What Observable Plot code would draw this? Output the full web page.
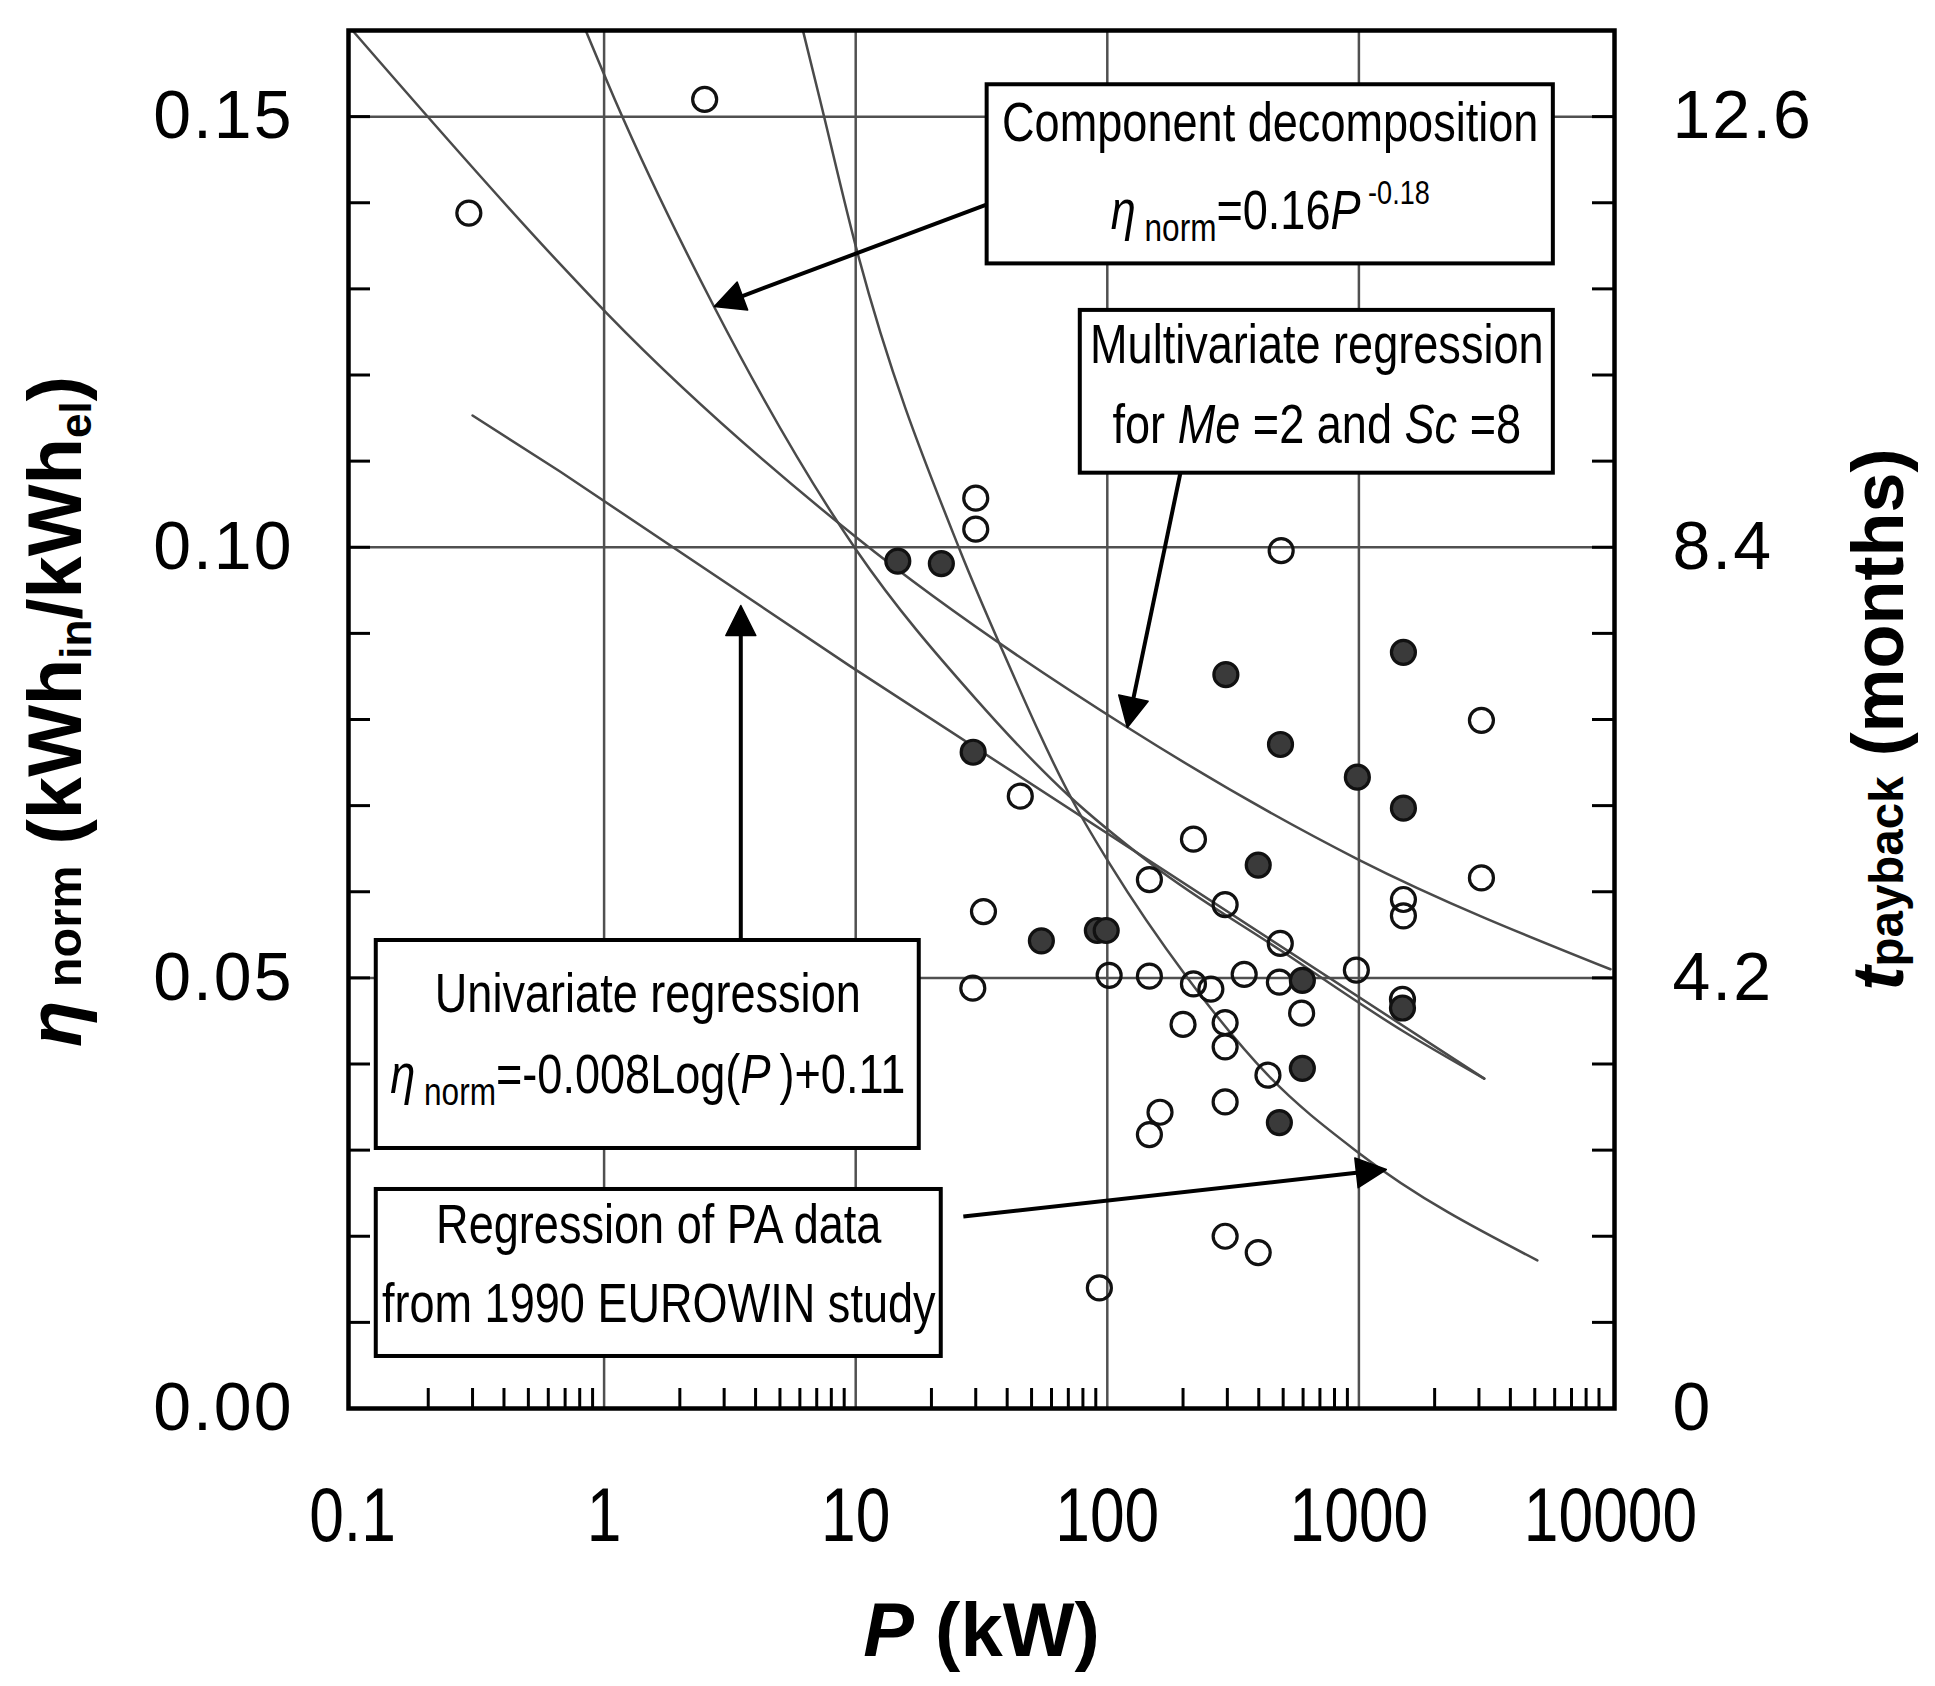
<!DOCTYPE html>
<html>
<head>
<meta charset="utf-8">
<script src="https://cdn.jsdelivr.net/npm/d3@7"></script>
<script src="https://cdn.jsdelivr.net/npm/@observablehq/plot@0.6"></script>
<style>
  html, body { margin: 0; padding: 0; background: #ffffff; }
  #chart { width: 1935px; height: 1686px; }
</style>
</head>
<body>
<div id="chart"></div>
<script>
// ---------------- data ----------------
const xTicks = [0.1, 1, 10, 100, 1000, 10000];
const xTickLabels = ["0.1", "1", "10", "100", "1000", "10000"];
const yTicks = [0, 0.05, 0.10, 0.15];
const yTickLabels = ["0.00", "0.05", "0.10", "0.15"];
const rightTickLabels = ["0", "4.2", "8.4", "12.6"];
const gridX = [1, 10, 100, 1000];
const gridY = [0.05, 0.10, 0.15];

// open circles
const openP   = [0.29, 2.51, 30, 30, 491, 3069, 3069, 45.1, 220, 147, 294, 32.2, 487, 1503, 1503, 101.7, 147, 220, 258, 350, 483, 977, 200, 294, 294, 592, 435, 294, 162, 147, 294, 398, 93, 29.2, 1490];
const openEta = [0.1388, 0.1520, 0.1057, 0.1021, 0.0996, 0.0799, 0.0616, 0.0711, 0.0661, 0.0614, 0.0585, 0.0577, 0.0540, 0.0591, 0.0572, 0.0503, 0.0502, 0.0493, 0.0487, 0.0504, 0.0495, 0.0509, 0.0446, 0.0448, 0.0420, 0.0459, 0.0387, 0.0356, 0.0344, 0.0318, 0.0200, 0.0181, 0.0140, 0.0488, 0.0475];
// filled circles
const filledP   = [14.7, 21.9, 296, 488, 986, 1503, 1503, 29.3, 398, 54.7, 91.3, 99, 596, 1490, 596, 483];
const filledEta = [0.0984, 0.0981, 0.0852, 0.0771, 0.0733, 0.0878, 0.0697, 0.0762, 0.0631, 0.0543, 0.0555, 0.0555, 0.0497, 0.0465, 0.0395, 0.0332];

// regression curves
const multiP   = [0.1, 0.668, 1.03, 10.1, 120, 986, 10000];
const multiEta = [0.160, 0.1329, 0.1271, 0.1011, 0.0791, 0.0638, 0.0510];
const uniP     = [0.3, 0.668, 9.5, 3150];
const uniEta   = [0.1153, 0.1088, 0.0862, 0.0383];
const compP    = [0.845, 1.106, 2.74, 10.1, 30, 70, 150, 500, 1500, 3150];
const compEta  = [0.160, 0.1519, 0.1279, 0.0996, 0.0824, 0.0712, 0.0632, 0.0530, 0.0438, 0.0383];
const euroP    = [6.17, 7.22, 10.1, 26.0, 37.8, 74.3, 102.4, 207, 435, 996, 5120];
const euroEta  = [0.160, 0.1519, 0.1345, 0.0996, 0.0884, 0.0701, 0.0632, 0.0501, 0.0387, 0.0297, 0.0172];

// annotation boxes (data coordinates)
const boxP1 = [33.3, 78.1, 0.1243, 0.1243];
const boxP2 = [5927, 5927, 17.89, 21.88];
const boxEtaTop    = [0.1537, 0.1275, 0.05434, 0.02543];
const boxEtaBottom = [0.1329, 0.1086, 0.03019, 0.00604];

// annotation text lines: box index, baseline, rich segments
const labelBox = [0, 0, 1, 1, 2, 2, 3, 3];
const labelEta = [0.1472, 0.1370, 0.12145, 0.11205, 0.04598, 0.03663, 0.01927, 0.00999];
const labelSegs = [
  [{t: "Component decomposition"}],
  [{t: "η", i: 1}, {t: " norm", s: 0.7, dy: 12}, {t: "=0.16"}, {t: "P", i: 1}, {t: " -0.18", s: 0.6, dy: -25}],
  [{t: "Multivariate regression"}],
  [{t: "for "}, {t: "Me", i: 1}, {t: " =2 and "}, {t: "Sc", i: 1}, {t: " =8"}],
  [{t: "Univariate regression"}],
  [{t: "η", i: 1}, {t: " norm", s: 0.7, dy: 12}, {t: "=-0.008Log("}, {t: "P", i: 1}, {t: "\u2009)+0.11"}],
  [{t: "Regression of PA data"}],
  [{t: "from 1990 EUROWIN study"}]
];

// arrows
const arrowFromP   = [33.3, 195, 3.494, 26.78];
const arrowFromEta = [0.1398, 0.10856, 0.05434, 0.02229];
const arrowToP     = [2.742, 120.1, 3.494, 1285];
const arrowToEta   = [0.12795, 0.07907, 0.09324, 0.02775];

// axis titles
const titleYSegs = [{t: "η", i: 1}, {t: " norm", s: 0.64}, {t: " (kWh"}, {t: "in", s: 0.58, dy: 10}, {t: "/kWh"}, {t: "el", s: 0.58, dy: 10}, {t: ")"}];
const titleRightSegs = [{t: "t", i: 1}, {t: "payback", s: 0.66}, {t: " (months)"}];
const titleXSegs = [{t: "P", i: 1}, {t: " (kW)"}];

// ---------------- helpers ----------------
function fontAvailable(name) {
  const c = document.createElement("canvas").getContext("2d");
  const s = "abcdefghijklmnopqrstuvwxyz0123456789 ABCDEFGH";
  c.font = "40px monospace"; const a = c.measureText(s).width;
  c.font = `40px "${name}", monospace`; const b = c.measureText(s).width;
  return Math.abs(a - b) > 0.5;
}
const narrowOK = fontAvailable("Liberation Sans Narrow");
const NARROW = narrowOK ? '"Liberation Sans Narrow", "Liberation Sans", Arial, sans-serif' : '"Liberation Sans", Arial, sans-serif';
const narrowScale = narrowOK ? 1 : 0.82;
const plain = segs => segs.map(s => s.t).join("");

function richify(el, segs, base) {
  while (el.firstChild) el.removeChild(el.firstChild);
  let cur = 0;
  for (const s of segs) {
    const t = document.createElementNS("http://www.w3.org/2000/svg", "tspan");
    const off = s.dy || 0;
    if (off !== cur) { t.setAttribute("dy", off - cur); cur = off; }
    if (s.s) t.setAttribute("font-size", s.s * base);
    if (s.i) t.setAttribute("font-style", "italic");
    t.textContent = s.t;
    el.appendChild(t);
  }
}
function squeeze(el) {
  if (narrowScale === 1) return;
  el.setAttribute("transform", (el.getAttribute("transform") || "") + ` scale(${narrowScale},1)`);
}

// ---------------- scales ----------------
const W = 1935, H = 1686;
const mL = 348, mR = 321, mT = 30, mB = 278;
const frameW = W - mL - mR, frameH = H - mT - mB;
const xOpts = {type: "log", domain: [0.1, 10000], range: [mL + 4, W - mR - 4]};
const yOpts = {domain: [0, 0.16], range: [H - mB, mT]};
const X = Plot.scale({x: xOpts});
const Y = Plot.scale({y: yOpts});

// ---------------- derived tables ----------------
const openPts = openP.map((p, i) => ({p, eta: openEta[i]}));
const filledPts = filledP.map((p, i) => ({p, eta: filledEta[i]}));
const toPts = (P, E) => P.map((p, i) => ({p, eta: E[i]}));
const boxes = boxP1.map((p1, i) => ({p1, p2: boxP2[i], e1: boxEtaBottom[i], e2: boxEtaTop[i]}));
const ann = labelSegs.map((segs, i) => ({
  segs, text: plain(segs),
  p: Math.sqrt(boxP1[labelBox[i]] * boxP2[labelBox[i]]),
  eta: labelEta[i]
}));
const minorX = [0.1, 1, 10, 100, 1000].flatMap(d => [2, 3, 4, 5, 6, 7, 8, 9].map(k => k * d));
const minorY = d3.range(1, 16).map(k => k / 100);

// arrows: shafts and filled heads (head size in pixels)
const headL = 30, headW = 30;
const shafts = [], heads = [];
arrowFromP.forEach((p, i) => {
  const x1 = X.apply(p), y1 = Y.apply(arrowFromEta[i]);
  const x2 = X.apply(arrowToP[i]), y2 = Y.apply(arrowToEta[i]);
  const len = Math.hypot(x2 - x1, y2 - y1);
  const ux = (x2 - x1) / len, uy = (y2 - y1) / len;
  const bx = x2 - ux * headL, by = y2 - uy * headL;
  const nx = -uy, ny = ux;
  shafts.push({p1: p, e1: arrowFromEta[i], p2: X.invert(bx), e2: Y.invert(by)});
  [[x2, y2], [bx + nx * headW / 2, by + ny * headW / 2], [bx - nx * headW / 2, by - ny * headW / 2]]
    .forEach(([hx, hy]) => heads.push({id: i, p: X.invert(hx), eta: Y.invert(hy)}));
});

const curveStroke = "#4a4a4a";

const chart = Plot.plot({
  width: W, height: H,
  marginLeft: mL, marginRight: mR, marginTop: mT, marginBottom: mB,
  x: xOpts, y: yOpts,
  style: {fontFamily: '"Liberation Sans", Arial, sans-serif', background: "white", color: "black", overflow: "visible"},
  marks: [
    // grid
    Plot.ruleX(gridX, {stroke: "#505050", strokeWidth: 2.5}),
    Plot.ruleY(gridY, {stroke: "#505050", strokeWidth: 2.5}),
    // inward minor ticks
    Plot.ruleX(minorX, {insetTop: frameH - 20, stroke: "black", strokeWidth: 3}),
    Plot.ruleY(minorY, {insetRight: frameW - 22, stroke: "black", strokeWidth: 3}),
    Plot.ruleY(minorY, {insetLeft: frameW - 22, stroke: "black", strokeWidth: 3}),
    // curves
    Plot.line(toPts(multiP, multiEta), {x: "p", y: "eta", curve: "monotone-x", stroke: curveStroke, strokeWidth: 2.5}),
    Plot.line(toPts(uniP, uniEta), {x: "p", y: "eta", curve: "linear", stroke: curveStroke, strokeWidth: 2.5}),
    Plot.line(toPts(compP, compEta), {x: "p", y: "eta", curve: "monotone-x", stroke: curveStroke, strokeWidth: 2.5}),
    Plot.line(toPts(euroP, euroEta), {x: "p", y: "eta", curve: "monotone-x", stroke: curveStroke, strokeWidth: 2.5}),
    // data points
    Plot.dot(openPts, {x: "p", y: "eta", r: 12, fill: "none", stroke: "#111", strokeWidth: 3.2}),
    Plot.dot(filledPts, {x: "p", y: "eta", r: 12, fill: "#3a3a3a", stroke: "#111", strokeWidth: 3.2}),
    // annotation boxes
    Plot.rect(boxes, {x1: "p1", x2: "p2", y1: "e1", y2: "e2", fill: "white", stroke: "black", strokeWidth: 4}),
    // arrows
    Plot.link(shafts, {x1: "p1", y1: "e1", x2: "p2", y2: "e2", stroke: "black", strokeWidth: 4}),
    Plot.line(heads, {x: "p", y: "eta", z: "id", fill: "black", stroke: "black", strokeWidth: 1.5, curve: "linear-closed"}),
    // annotation text
    Plot.text(ann, {x: "p", y: "eta", text: "text", fontFamily: NARROW, fontSize: 55, lineAnchor: "bottom", textAnchor: "middle", fill: "black", ariaDescription: "ann-text"}),
    // axes
    Plot.axisX({ticks: xTicks, tickFormat: d => xTickLabels[xTicks.indexOf(d)], tickSize: 0, tickPadding: 79, fontSize: 76, fontFamily: NARROW, label: null}),
    Plot.axisY({anchor: "left", ticks: yTicks, tickFormat: d => yTickLabels[yTicks.indexOf(d)], tickSize: 0, tickPadding: 55, fontSize: 68, label: null}),
    Plot.axisY({anchor: "right", ticks: yTicks, tickFormat: d => rightTickLabels[yTicks.indexOf(d)], tickSize: 0, tickPadding: 58, fontSize: 68, label: null}),
    // axis titles
    Plot.text([titleYSegs], {frameAnchor: "left", dx: 80 - mL, dy: -8, rotate: -90, text: plain, lineAnchor: "bottom", textAnchor: "middle", fontSize: 76, fontWeight: "bold", fill: "black", ariaDescription: "title-y"}),
    Plot.text([titleRightSegs], {frameAnchor: "right", dx: 1902 - (W - mR), rotate: -90, text: plain, lineAnchor: "bottom", textAnchor: "middle", fontSize: 72, fontWeight: "bold", fill: "black", ariaDescription: "title-r"}),
    Plot.text([titleXSegs], {frameAnchor: "bottom", dy: 1655 - (H - mB), text: plain, lineAnchor: "bottom", textAnchor: "middle", fontSize: 76, fontWeight: "bold", fill: "black", ariaDescription: "title-x"}),
    Plot.frame({stroke: "black", strokeWidth: 4.5})
  ]
});

// ---------------- rich text post-processing ----------------
const root = d3.select(chart);
root.selectAll('g[aria-description="ann-text"] text').each(function (_, i) {
  richify(this, ann[i].segs, 55);
  squeeze(this);
});
root.selectAll('g[aria-description="title-y"] text').each(function () { richify(this, titleYSegs, 76); });
root.selectAll('g[aria-description="title-r"] text').each(function () { richify(this, titleRightSegs, 72); });
root.selectAll('g[aria-description="title-x"] text').each(function () { richify(this, titleXSegs, 76); });
root.selectAll('g[aria-label="x-axis tick label"] text').each(function () { squeeze(this); });
root.selectAll('g[aria-label="y-axis tick label"]').attr("letter-spacing", 2);

document.getElementById("chart").appendChild(chart);
</script>
</body>
</html>
